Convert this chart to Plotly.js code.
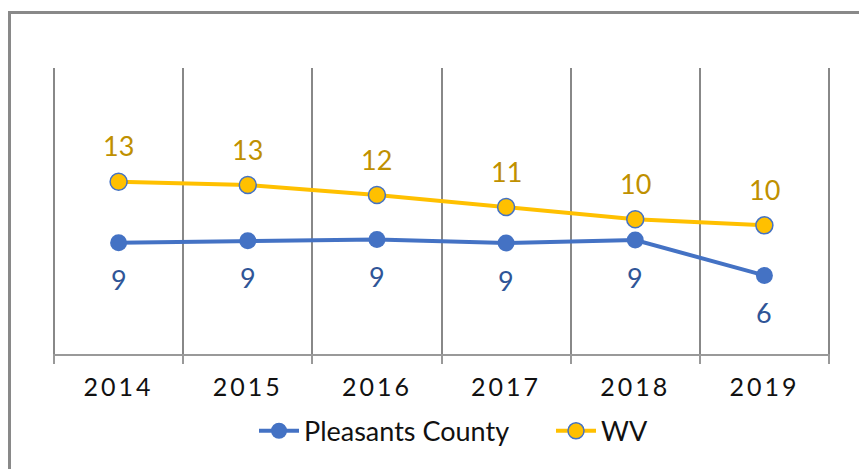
<!DOCTYPE html>
<html>
<head>
<meta charset="utf-8">
<script src="https://cdn.plot.ly/plotly-3.0.1.min.js"></script>
<style>
html,body{margin:0;padding:0;background:#fff;}
#chart{width:859px;height:469px;}
.xtick text{letter-spacing:3px;}
</style>
</head>
<body>
<div id="chart"></div>
<script>
const years = ["2014","2015","2016","2017","2018","2019"];
const pleasants = [8.64, 8.78, 8.86, 8.62, 8.83, 6.39];
const wv = [12.85, 12.62, 11.93, 11.10, 10.26, 9.84];
const pleasantsLabels = ["9","9","9","9","9","6"];
const wvLabels = ["13","13","12","11","10","10"];

const FONT = "Lato, 'Open Sans', sans-serif";
const BLUE = "#4472C4", GOLD = "#FFC000";

const traces = [
  {x: years, y: pleasants, name: "Pleasants County", type: "scatter", mode: "lines+markers",
   line: {color: BLUE, width: 4}, marker: {color: BLUE, size: 17}, legendwidth: 242},
  {x: years, y: wv, name: "WV", type: "scatter", mode: "lines+markers",
   line: {color: GOLD, width: 4}, marker: {color: GOLD, size: 17, line: {color: BLUE, width: 1.5}}}
];

const annotations = [];
years.forEach((yr, i) => {
  annotations.push({x: i, y: wv[i], xref: "x", yref: "y", text: wvLabels[i], showarrow: false,
    yshift: 36, font: {family: FONT, size: 27, color: "#BF9000"}});
  annotations.push({x: i, y: pleasants[i], xref: "x", yref: "y", text: pleasantsLabels[i], showarrow: false,
    yshift: -37, font: {family: FONT, size: 27, color: "#2F5597"}});
});

const layout = {
  width: 859, height: 469,
  margin: {l: 53, r: 29, t: 68, b: 115, autoexpand: false},
  paper_bgcolor: "#fff", plot_bgcolor: "#fff",
  font: {family: FONT, color: "#1a1a1a"},
  showlegend: true,
  legend: {orientation: "h", x: (254 - 53) / 777, xanchor: "left", y: -0.27, yanchor: "middle",
    font: {family: FONT, size: 27, color: "#111"}, itemwidth: 40, tracegroupgap: 0},
  xaxis: {type: "category", tickson: "boundaries", showgrid: true, gridcolor: "#888888", gridwidth: 2,
    showline: true, linecolor: "#999999", linewidth: 2, ticks: "outside", ticklen: 8,
    tickcolor: "#999999", tickwidth: 2, tickfont: {family: FONT, size: 25, color: "#111"},
    ticklabelstandoff: 10, automargin: false,
    range: [-0.508, 5.508], fixedrange: true},
  yaxis: {range: [0.97, 20.69], showgrid: false, zeroline: false, showline: false,
    showticklabels: false, ticks: "", fixedrange: true, automargin: false},
  annotations: annotations,
  shapes: [{type: "rect", xref: "paper", yref: "paper",
    x0: (9.5 - 53) / 777, x1: (880 - 53) / 777, y0: (354 - 490) / 286, y1: (354 - 12.5) / 286,
    line: {color: "#898989", width: 3}, fillcolor: "rgba(0,0,0,0)", layer: "below"}]
};

Plotly.newPlot("chart", traces, layout, {staticPlot: true, displayModeBar: false});
</script>
</body>
</html>
